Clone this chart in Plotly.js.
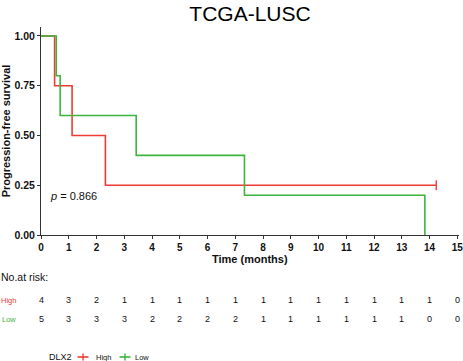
<!DOCTYPE html>
<html>
<head>
<meta charset="utf-8">
<script src="https://cdn.plot.ly/plotly-3.0.1.min.js"></script>
<style>html,body{margin:0;padding:0;background:#fff;}#chart{width:463px;height:361px;}</style>
</head>
<body>
<div id="chart"></div>
<script>
// Kaplan-Meier step data
var highTime = [0, 0.49, 1.12, 2.32, 14.24];
var highSurv = [1, 0.75, 0.50, 0.25, 0.25];
var highCensorTime = [14.24];
var highCensorSurv = [0.25];

var lowTime = [0, 0.55, 0.69, 3.43, 7.33, 13.83];
var lowSurv = [1, 0.80, 0.60, 0.40, 0.20, 0.00];

// Numbers at risk
var riskTimes = [0,1,2,3,4,5,6,7,8,9,10,11,12,13,14,15];
var riskHigh = [4,3,2,1,1,1,1,1,1,1,1,1,1,1,1,0];
var riskLow  = [5,3,3,3,2,2,2,2,1,1,1,1,1,1,0,0];

var groupNames = ['High', 'Low'];
var xTickVals = [0,1,2,3,4,5,6,7,8,9,10,11,12,13,14,15];
var yTickVals = [0, 0.25, 0.5, 0.75, 1];
var yTickText = ['0.00', '0.25', '0.50', '0.75', '1.00'];
var pValueText = '<i>p</i> = 0.866';

var RED = '#EE3B36';
var GREEN = '#3DB43D';
var FONT = 'Liberation Sans, Arial, sans-serif';

// plot area pixel geometry
var L = 41, R = 4, T = 27, B = 126;
var W = 463 - L - R, H = 361 - T - B;
function py(p) { return (235 - p) / H; }   // pixel y -> paper y
function px(p) { return (p - L) / W; }     // pixel x -> paper x

var traces = [
  {x: highTime, y: highSurv, mode: 'lines', line: {shape: 'hv', color: RED, width: 1.6}, name: groupNames[0], showlegend: false, hoverinfo: 'skip'},
  {x: highCensorTime, y: highCensorSurv, mode: 'markers', marker: {symbol: 'line-ns-open', size: 7, color: RED, line: {color: RED, width: 1.4}}, showlegend: false, hoverinfo: 'skip'},
  {x: lowTime, y: lowSurv, mode: 'lines', line: {shape: 'hv', color: GREEN, width: 1.6}, name: groupNames[1], showlegend: false, hoverinfo: 'skip'}
];

var ann = [];
function note(o) { o.showarrow = false; if (!o.yanchor) o.yanchor = 'middle'; ann.push(o); }
note({xref: 'x', yref: 'y', x: 1.16, y: 0.196, text: pValueText, font: {family: FONT, size: 11, color: '#111'}});
note({xref: 'paper', yref: 'paper', x: 0.5, y: py(259), text: 'Time (months)', font: {family: FONT, size: 11, color: '#111', weight: 'bold'}});
note({xref: 'paper', yref: 'paper', x: px(0), xanchor: 'left', y: py(277), text: 'No.at risk:', xshift: -1, font: {family: FONT, size: 10.5, color: '#111'}});
note({xref: 'paper', yref: 'paper', x: px(0), xanchor: 'left', y: py(300), text: groupNames[0], xshift: -1, font: {family: FONT, size: 7.5, color: RED}});
note({xref: 'paper', yref: 'paper', x: px(1), xanchor: 'left', y: py(319), text: groupNames[1], xshift: -1, font: {family: FONT, size: 7.5, color: GREEN}});
for (var i = 0; i < riskTimes.length; i++) {
  note({xref: 'x', yref: 'paper', x: riskTimes[i], y: py(300), text: String(riskHigh[i]), font: {family: FONT, size: 9, color: '#111'}});
  note({xref: 'x', yref: 'paper', x: riskTimes[i], y: py(319), text: String(riskLow[i]), font: {family: FONT, size: 9, color: '#111'}});
}
// legend
note({xref: 'paper', yref: 'paper', x: px(48), xanchor: 'left', y: py(357), text: 'DLX2', xshift: -1, font: {family: FONT, size: 9, color: '#111'}});
note({xref: 'paper', yref: 'paper', x: px(95), xanchor: 'left', y: py(357), text: groupNames[0], xshift: -1, font: {family: FONT, size: 7.5, color: '#111'}});
note({xref: 'paper', yref: 'paper', x: px(134), xanchor: 'left', y: py(357), text: groupNames[1], xshift: -1, font: {family: FONT, size: 7.5, color: '#111'}});

var shapes = [];
function cross(cx, color) {
  shapes.push({type: 'line', xref: 'paper', yref: 'paper', x0: px(cx - 5.5), x1: px(cx + 5.5), y0: py(357), y1: py(357), line: {color: color, width: 1.6}});
  shapes.push({type: 'line', xref: 'paper', yref: 'paper', x0: px(cx), x1: px(cx), y0: py(353.5), y1: py(360.5), line: {color: color, width: 1.4}});
}
cross(83, RED);
cross(125, GREEN);

var layout = {
  width: 463, height: 361,
  margin: {l: L, r: R, t: T, b: B, pad: 0},
  paper_bgcolor: '#fff', plot_bgcolor: '#fff',
  showlegend: false,
  title: {text: 'TCGA-LUSC', x: 0.5, xref: 'paper', y: 1 - 14/361, yref: 'container', yanchor: 'middle', xanchor: 'center', font: {family: FONT, size: 21, color: '#000'}},
  xaxis: {
    range: [0, 15.06], tickvals: xTickVals, ticks: 'outside', ticklen: 3, tickwidth: 1, tickcolor: '#333',
    showline: true, linecolor: '#333', linewidth: 1, showgrid: false, zeroline: false,
    ticklabeloverflow: 'allow',
    tickfont: {family: FONT, size: 10, color: '#111', weight: 'bold'}, fixedrange: true
  },
  yaxis: {
    range: [0, 1.045], tickvals: yTickVals, ticktext: yTickText, ticks: 'outside', ticklen: 3, tickwidth: 1, tickcolor: '#333',
    showline: true, linecolor: '#333', linewidth: 1, showgrid: false, zeroline: false,
    tickfont: {family: FONT, size: 10.5, color: '#111', weight: 'bold'},
    title: {text: 'Progression-free survival', standoff: 4, font: {family: FONT, size: 11, color: '#111', weight: 'bold'}},
    fixedrange: true
  },
  annotations: ann,
  shapes: shapes
};

Plotly.newPlot('chart', traces, layout, {displayModeBar: false, staticPlot: true});
</script>
</body>
</html>
